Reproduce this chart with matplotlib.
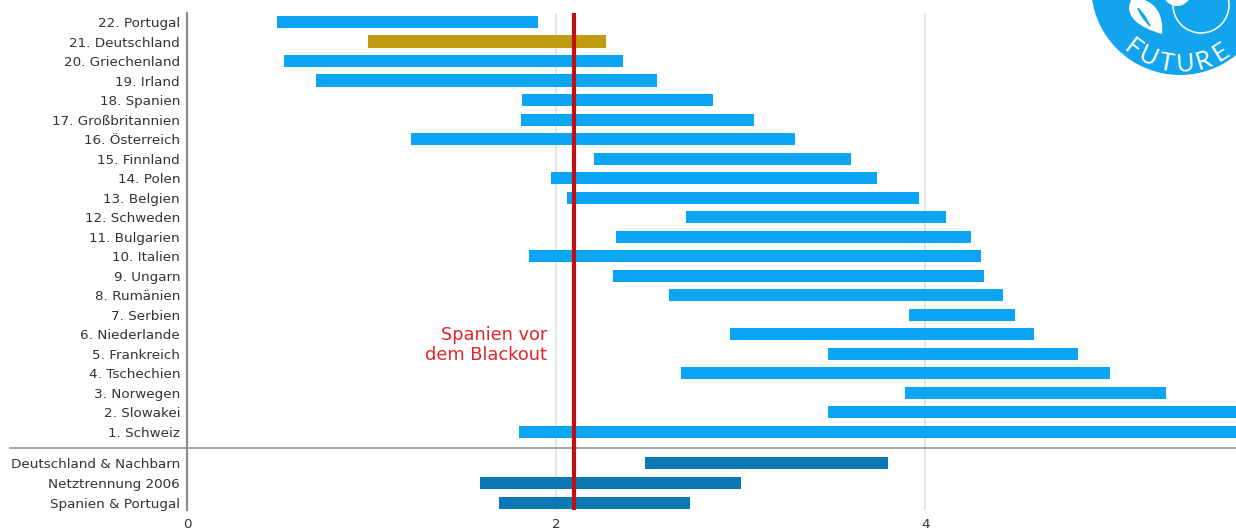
import numpy as np
import matplotlib.pyplot as plt
from matplotlib.patches import Circle, PathPatch
from matplotlib.path import Path

plt.rcParams['font.family'] = ['DejaVu Sans']

W, H = 1236, 530

countries = ["22. Portugal", "21. Deutschland", "20. Griechenland", "19. Irland", "18. Spanien",
             "17. Großbritannien", "16. Österreich", "15. Finnland", "14. Polen", "13. Belgien",
             "12. Schweden", "11. Bulgarien", "10. Italien", "9. Ungarn", "8. Rumänien",
             "7. Serbien", "6. Niederlande", "5. Frankreich", "4. Tschechien", "3. Norwegen",
             "2. Slowakei", "1. Schweiz"]
country_low = [0.49, 0.98, 0.525, 0.70, 1.815, 1.81, 1.213, 2.205, 1.97, 2.06, 2.703,
               2.324, 1.853, 2.308, 2.61, 3.91, 2.94, 3.47, 2.676, 3.89, 3.47, 1.80]
country_high = [1.90, 2.27, 2.36, 2.545, 2.85, 3.07, 3.295, 3.597, 3.74, 3.965, 4.11,
                4.247, 4.30, 4.317, 4.42, 4.485, 4.59, 4.827, 5.0, 5.303, 5.75, 5.75]

groups = ["Deutschland & Nachbarn", "Netztrennung 2006", "Spanien & Portugal"]
group_low = [2.48, 1.587, 1.69]
group_high = [3.80, 3.0, 2.725]

blackout = 2.096
xticks = [0, 2, 4]

BLUE = "#0aa5f5"
DARK = "#0a78b4"
GOLD = "#c09a10"
RED = "#c01010"
GREY = "#8c8c8c"
TEXT = "#333333"

fig = plt.figure(figsize=(W / 100, H / 100), dpi=100)
ax = fig.add_axes([187 / W, 20 / H, 1 - 187 / W, 497 / H])

rows = np.arange(len(countries))
group_rows = len(countries) + 0.58 + np.arange(len(groups)) * 1.02

colors = [GOLD if "Deutschland" in c else BLUE for c in countries]
ax.barh(rows, np.subtract(country_high, country_low), left=country_low, height=0.62, color=colors, zorder=2)
ax.barh(group_rows, np.subtract(group_high, group_low), left=group_low, height=0.62, color=DARK, zorder=2)

ax.set_xlim(0, (W - 187) / 184.6)
ax.set_ylim(25.0, -0.46)

ax.set_yticks(np.concatenate([rows, group_rows]))
ax.set_yticklabels(countries + groups, fontsize=9.7, color=TEXT)
ax.set_xticks(xticks)
ax.set_xticklabels([str(t) for t in xticks], fontsize=9.7, color=TEXT)
ax.tick_params(axis="y", length=0, pad=5)
ax.tick_params(axis="x", length=0, pad=6)

ax.grid(axis="x", color="#e2e2e2", lw=1.2, zorder=0)
ax.set_axisbelow(True)
for name in ["top", "right", "bottom"]:
    ax.spines[name].set_visible(False)
ax.spines["left"].set_color(GREY)
ax.spines["left"].set_linewidth(1.6)

# separator between the countries and the comparison rows, runs under the labels too
ax.plot([-177 / 184.6, ax.get_xlim()[1]], [len(countries) - 0.17] * 2, color=GREY, lw=1.1, clip_on=False, zorder=1)

ax.axvline(blackout, color=RED, lw=3, zorder=3)
ax.text(blackout - 0.145, 16.57, "Spanien vor\ndem Blackout", color="#e0262c", fontsize=12.8,
        ha="right", va="center", linespacing=1.15)

# logo in the corner, drawn in pixel coordinates
logo = fig.add_axes([0, 0, 1, 1])
logo.set_xlim(0, W)
logo.set_ylim(H, 0)
logo.axis("off")
logo.patch.set_alpha(0)

cx, cy, r = 1180, -14, 89
logo_blue = "#12a5ee"
logo.add_patch(Circle((cx, cy), r, color=logo_blue, lw=0))

leaf = Path([(1132, -2), (1122, 16), (1140, 28), (1162, 34), (1164, 16), (1156, -2), (1132, -2), (1132, -2)],
            [Path.MOVETO, Path.CURVE4, Path.CURVE4, Path.CURVE4, Path.CURVE4, Path.CURVE4, Path.CURVE4, Path.CLOSEPOLY])
logo.add_patch(PathPatch(leaf, fc="white", ec="none"))
vein = Path([(1138, 8), (1140, 16), (1150, 26), (1146, 16), (1138, 8)],
            [Path.MOVETO, Path.CURVE3, Path.CURVE3, Path.CURVE3, Path.CURVE3])
logo.add_patch(PathPatch(vein, fc=logo_blue, ec=logo_blue, lw=0.8))
logo.add_patch(Circle((1201, 5), 28, fc="none", ec="white", lw=1.1))
logo.add_patch(Circle((1177, -8), 14, color="white", lw=0))

word = "FUTURE"
angles = [37, 24, 10, -4, -18, -32]
for letter, a in zip(word, angles):
    px = cx - 78 * np.sin(np.radians(a))
    py = cy + 78 * np.cos(np.radians(a))
    logo.text(px, py, letter, color="white", fontsize=18, family="Lato", ha="center", va="center", rotation=-a)

fig.savefig("out.png", dpi=100)
